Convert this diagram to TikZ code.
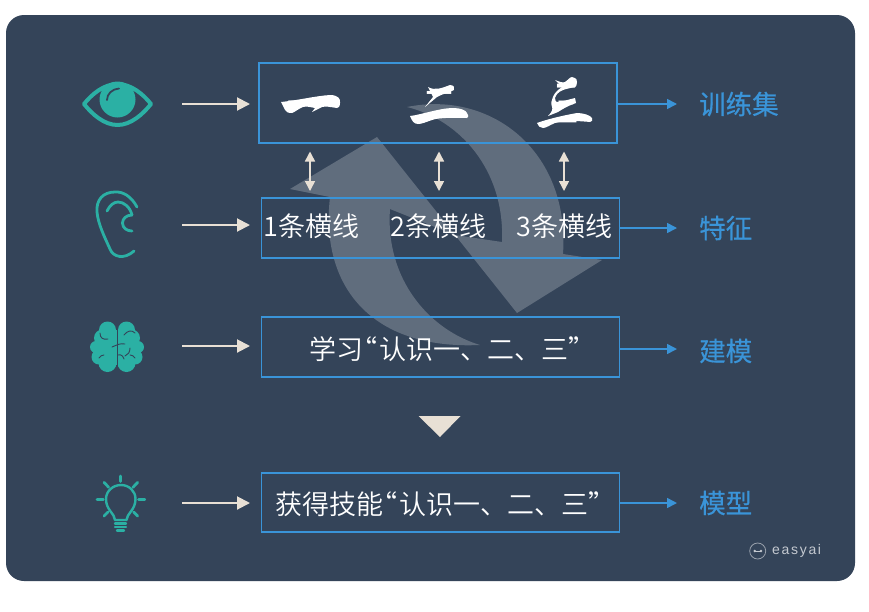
\documentclass[tikz,border=0pt]{standalone}
\usepackage{fontspec}
\usetikzlibrary{arrows.meta,calc}
\setmainfont{Noto Sans CJK SC}
\newfontfamily\bodyfont{Noto Sans CJK SC DemiLight}
\newfontfamily\cjkbold[FakeBold=0.5]{Noto Sans CJK SC}
\newfontfamily\logofont[LetterSpace=12]{Liberation Sans}
\definecolor{bgnavy}{HTML}{344459}
\definecolor{teal1}{HTML}{2BB0A4}
\definecolor{blue1}{HTML}{3A94D8}
\definecolor{cream}{HTML}{E8E0D5}
\definecolor{logogrey}{HTML}{C4C9D0}
\tikzset{
  x=1pt,y=-1pt,
  boxnode/.style={draw=blue1,line width=1.8pt,minimum width=358pt,inner sep=0pt,minimum height=59.5pt,anchor=west},
  bodytext/.style={text=white,font=\bodyfont\fontsize{27}{30}\selectfont,inner sep=0pt,anchor=west},
  labeltext/.style={text=blue1,font=\cjkbold\fontsize{26.5}{30}\selectfont,inner sep=0pt,anchor=west},
  creamarrow/.style={draw=cream,line width=2pt,-{Triangle[length=13pt,width=13pt,fill=cream]}},
  bluearrow/.style={draw=blue1,line width=1.6pt,-{Triangle[length=10pt,width=10pt,fill=blue1]}},
  duplexarrow/.style={draw=cream,line width=1.5pt,{Triangle[length=10pt,width=10pt,fill=cream]}-{Triangle[length=10pt,width=10pt,fill=cream]}},
  cycle/.style={fill=white,fill opacity=0.22,draw=none},
  tealline/.style={draw=teal1,line cap=round,line join=round},
  wrinkle/.style={draw=bgnavy,line width=0.9pt,line cap=round},
  brush/.style={fill=white,draw=none},
  brushtext/.style={text=white,inner sep=0pt,anchor=base}
}
\begin{document}
\begin{tikzpicture}
\useasboundingbox (0,0) rectangle (869,611);
\fill[white] (0,0) rectangle (869,611);
\fill[bgnavy,rounded corners=18pt] (6,15) rectangle (855,581);

% recycling arrows
\fill[cycle] (377,137) -- (290,189) -- (330,197)
  .. controls (320,285) and (370,350) .. (480,345)
  .. controls (430,330) and (385,280) .. (390,209)
  -- (455,235) -- cycle;
\fill[cycle] (517,313) -- (602,260) -- (563,254)
  .. controls (570,150) and (490,90) .. (407,107)
  .. controls (460,120) and (505,170) .. (502,242)
  -- (455,235) -- cycle;

% boxes
\node[boxnode,minimum height=80pt] (b1) at (258,102.7) {};
\node[boxnode] (b2) at (260.5,228) {};
\node[boxnode] (b3) at (260.5,347) {};
\node[boxnode] (b4) at (260.5,502.5) {};

% calligraphic numerals
\node[brushtext,font=\fontsize{50}{50}\selectfont] (one) at (311,122) {一};
\fill[brush] (281,102) .. controls (300,100) and (315,96) .. (330,95)
  .. controls (338,95) and (341,99) .. (340,103) .. controls (340,107) and (338,108) .. (337,108)
  .. controls (330,107) and (326,106) .. (322,107) -- (312,112) -- (315,108)
  .. controls (310,107) and (306,106) .. (303,107) .. controls (298,109) and (295,112) .. (292,113)
  .. controls (288,113) and (286,112) .. (285,110) -- cycle;
\node[brushtext,font=\fontsize{34}{34}\selectfont] (two) at (439,117.5) {\scalebox{1}[1.1]{二}};
\fill[brush] (428,87) .. controls (435,91) and (442,88) .. (450,85)
  .. controls (454,85) and (455,88) .. (454,90) .. controls (448,93) and (442,94) .. (437,97)
  -- (425,107) -- (433,97) -- cycle;
\fill[brush] (410,116) .. controls (420,115) and (440,108) .. (453,108)
  .. controls (460,108) and (466,110) .. (467,113) .. controls (469,116) and (468,118) .. (467,118)
  .. controls (458,118) and (440,117) .. (432,120) .. controls (426,122) and (422,124) .. (418,124)
  .. controls (414,124) and (412,121) .. (410,116) -- cycle;
\node[brushtext,font=\fontsize{24}{24}\selectfont] (three) at (566,122) {\scalebox{1}[2.15]{三}};
\fill[brush] (555,80) .. controls (560,82) and (563,83) .. (565,82)
  .. controls (568,80) and (570,77) .. (572,77) .. controls (576,78) and (578,80) .. (577,82)
  .. controls (577,85) and (576,87) .. (575,87) .. controls (570,88) and (566,89) .. (563,90)
  .. controls (558,92) and (556,95) .. (555,98) .. controls (555,101) and (556,102) .. (557,102)
  .. controls (562,102) and (570,99) .. (575,98) -- (576,103)
  .. controls (570,105) and (564,108) .. (558,112) -- (548,116)
  .. controls (552,112) and (553,109) .. (552,107) .. controls (551,103) and (551,101) .. (552,100)
  .. controls (553,95) and (556,92) .. (558,90) .. controls (559,89) and (561,88) .. (562,87) -- cycle;
\fill[brush] (537,123) .. controls (545,120) and (560,116) .. (577,113)
  .. controls (583,113) and (590,115) .. (592,118) .. controls (593,120) and (592,122) .. (590,122)
  .. controls (580,121) and (565,120) .. (555,123) .. controls (550,125) and (546,128) .. (543,128)
  .. controls (540,128) and (538,126) .. (537,123) -- cycle;

% row texts
\node[bodytext] (t1) at (263,226) {1条横线};
\node[bodytext] (t2) at (390,226) {2条横线};
\node[bodytext] (t3) at (516,226) {3条横线};
\node[bodytext] (t4) at (309,349) {学习\kern-13pt“\kern2pt认识一、二、三”};
\node[bodytext] (t5) at (275,504) {获得技能\kern-13pt“\kern2pt认识一、二、三”};

% right labels
\node[labeltext] (l1) at (699,104) {训练集};
\node[labeltext] (l2) at (699,228) {特征};
\node[labeltext] (l3) at (699,351) {建模};
\node[labeltext] (l4) at (699,503) {模型};

% right arrows
\coordinate (a1) at (677,104);
\coordinate (a2) at (677,228);
\coordinate (a3) at (677,349);
\coordinate (a4) at (677,503);
\draw[bluearrow] (b1.east |- a1) -- (a1);
\draw[bluearrow] (b2.east |- a2) -- (a2);
\draw[bluearrow] (b3.east |- a3) -- (a3);
\draw[bluearrow] (b4.east |- a4) -- (a4);

% left arrows
\coordinate (eyeout) at (182,104);
\coordinate (earout) at (182,225);
\coordinate (brainout) at (182,346);
\coordinate (bulbout) at (182,503);
\draw[creamarrow] (eyeout) -- (250,104);
\draw[creamarrow] (earout) -- (250,225);
\draw[creamarrow] (brainout) -- (250,346);
\draw[creamarrow] (bulbout) -- (250,503);

% double arrows between box 1 and box 2
\coordinate (d1t) at (310,151.5); \coordinate (d1b) at (310,191);
\coordinate (d2t) at (439,151.5); \coordinate (d2b) at (439,191);
\coordinate (d3t) at (564,151.5); \coordinate (d3b) at (564,191);
\draw[duplexarrow] (d1t) -- (d1b);
\draw[duplexarrow] (d2t) -- (d2b);
\draw[duplexarrow] (d3t) -- (d3b);

% down triangle
\fill[cream] (418.5,416) -- (460.5,416) -- (440,437) -- cycle;

% eye
\draw[tealline,line width=4pt] (84,104) .. controls (92,94) and (104,84) .. (117.5,84)
  .. controls (131,84) and (143,94) .. (151,104)
  .. controls (143,114) and (131,125) .. (117.5,125)
  .. controls (104,125) and (92,114) .. (84,104) -- cycle;
\fill[teal1] (117.5,99.5) circle (18);
\draw[draw=bgnavy,line width=1.8pt,line cap=round] (107,100) .. controls (107,94) and (112,89) .. (119,88.5);

% ear
\draw[tealline,line width=2.8pt] (137,207) .. controls (131,196) and (123,191.5) .. (115,192)
  .. controls (103,192) and (96,200) .. (97,212)
  .. controls (98,224) and (105,238) .. (110,249)
  .. controls (113,257) and (124,260) .. (134,251);
\draw[tealline,line width=2.8pt] (107,211) .. controls (110,205) and (114,202) .. (118,202)
  .. controls (124,202) and (130,207) .. (132,215);
\draw[tealline,line width=2.8pt] (132,215) .. controls (126,215) and (122.5,219) .. (122.5,223)
  .. controls (122.5,228) and (127,231) .. (132,231);

% brain
\fill[teal1]
  (107.5,330) circle (8.5) (102.5,338) circle (8.5) (96,347) circle (6) (99,357) circle (7.5) (107.5,363) circle (9)
  (126.5,330) circle (8.5) (131.5,338) circle (8.5) (138,347) circle (6) (135,357) circle (7.5) (126.5,363) circle (9);
\fill[teal1] (100,330) rectangle (134,365);
\draw[wrinkle] (117,326) -- (117,369);
\draw[wrinkle] (100,333) .. controls (100,338) and (103,340) .. (108,339);
\draw[wrinkle] (124,335) .. controls (128,330) and (132,330) .. (135,333);
\draw[wrinkle] (112,347) .. controls (117,345) and (120,343) .. (125,344);
\draw[wrinkle] (130,348) .. controls (130,352) and (128,355) .. (125,356);
\draw[wrinkle] (99,358) .. controls (100,356) and (102,355) .. (104,355);
\draw[wrinkle] (135,358) .. controls (134,356) and (132,355) .. (130,355);
\draw[wrinkle] (118,355) .. controls (121,354) and (123,356) .. (124,359);

% bulb
\draw[tealline,line width=2.4pt] (115,520) .. controls (115,514) and (106,510) .. (106,499)
  .. controls (106,491) and (113,485) .. (121,485)
  .. controls (129,485) and (135.5,491) .. (135.5,499)
  .. controls (135.5,510) and (126.5,514) .. (126.5,520) -- cycle;
\draw[tealline,line width=2.4pt] (115,523.5) -- (126,523.5);
\draw[tealline,line width=2.4pt] (115,527) -- (126,527);
\draw[tealline,line width=2.4pt] (117,530.5) -- (124,530.5);
\draw[tealline,line width=2.8pt] (120.7,476) -- (120.7,481.5);
\draw[tealline,line width=2.8pt] (104,482.3) -- (108.7,487.3);
\draw[tealline,line width=2.8pt] (137.7,482.3) -- (133,487.3);
\draw[tealline,line width=2.8pt] (97,499.3) -- (103.3,499.3);
\draw[tealline,line width=2.8pt] (138.5,499.3) -- (144.8,499.3);
\draw[tealline,line width=2.8pt] (104,516) -- (108,512);
\draw[tealline,line width=2.8pt] (137.7,516) -- (133.7,512);

% logo
\node[draw=logogrey!70!bgnavy,circle,line width=0.8pt,minimum size=16pt,inner sep=0pt] (logoring) at (757.7,551) {};
\fill[logogrey] (754.7,551) circle (1.3) (761,551) circle (1.3);
\draw[logogrey,line width=0.4pt] (754.7,551) -- (761,551);
\node[text=logogrey,font=\logofont\fontsize{14}{15}\selectfont,inner sep=0pt,anchor=west] (logo) at (772,551) {easyai};
\end{tikzpicture}
\end{document}
